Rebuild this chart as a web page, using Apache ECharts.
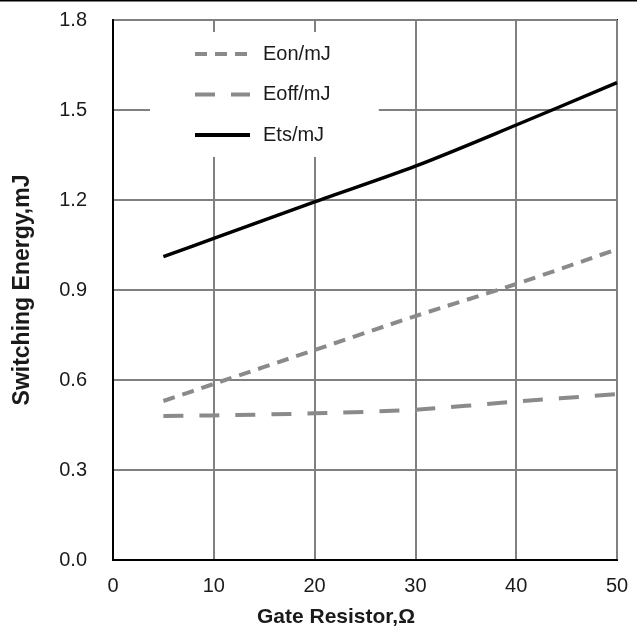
<!DOCTYPE html>
<html>
<head>
<meta charset="utf-8">
<script src="https://cdn.jsdelivr.net/npm/echarts@6/dist/echarts.min.js"></script>
<style>html,body{margin:0;padding:0;background:#fff;}#c{width:637px;height:627px;}</style>
</head>
<body>
<div id="c"></div>
<script>
const resistance = [5, 10, 20, 30, 40, 50];
const eon = [0.530, 0.587, 0.700, 0.813, 0.920, 1.036];
const eoff = [0.480, 0.482, 0.489, 0.501, 0.528, 0.553];
const ets = [1.011, 1.072, 1.194, 1.313, 1.450, 1.591];
const seriesNames = ['Eon/mJ', 'Eoff/mJ', 'Ets/mJ'];
const xTitle = 'Gate Resistor,Ω';
const yTitle = 'Switching Energy,mJ';

const pairs = arr => resistance.map((x, i) => [x, arr[i]]);
const chart = echarts.init(document.getElementById('c'));
const font = 'Liberation Sans, Arial, sans-serif';
const gray = '#8a8a8a';
chart.setOption({
  animation: false,
  backgroundColor: '#fff',
  grid: { left: 113, top: 20, width: 504, height: 540, show: true, borderColor: '#000', borderWidth: 2, backgroundColor: 'transparent', containLabel: false, outerBoundsMode: 'none' },
  graphic: [{ type: 'line', shape: { x1: 0, y1: 0.5, x2: 637, y2: 0.5 }, style: { stroke: '#000', lineWidth: 2 }, z: 100 }],
  legend: {
    orient: 'vertical', left: 150, top: 32,
    padding: [12, 48, 12, 43],
    backgroundColor: '#fff',
    itemWidth: 55, itemHeight: 14, itemGap: 20.5,
    itemStyle: { opacity: 0 },
    lineStyle: { width: 4 },
    textStyle: { fontFamily: font, fontSize: 20, lineHeight: 20, color: '#1a1a1a', padding: [0, 0, 0, 8] },
    data: seriesNames
  },
  xAxis: {
    type: 'value', min: 0, max: 50, interval: 10,
    name: xTitle, nameLocation: 'middle', nameGap: 47,
    nameTextStyle: { fontFamily: font, fontSize: 21, fontWeight: 'bold', color: '#1a1a1a', padding: [0, 58, 0, 0] },
    axisLine: { show: true, onZero: false, lineStyle: { color: '#000', width: 2 } },
    axisTick: { show: false },
    axisLabel: { fontFamily: font, fontSize: 20, color: '#1a1a1a', margin: 16 },
    splitLine: { show: true, lineStyle: { color: '#808080', width: 2 } }
  },
  yAxis: {
    type: 'value', min: 0, max: 1.8, interval: 0.3,
    name: yTitle, nameLocation: 'middle', nameGap: 79, nameRotate: 90,
    nameTextStyle: { fontFamily: font, fontSize: 23, fontWeight: 'bold', color: '#1a1a1a' },
    axisLine: { show: true, lineStyle: { color: '#000', width: 2 } },
    axisTick: { show: false },
    axisLabel: { fontFamily: font, fontSize: 20, color: '#1a1a1a', margin: 26, formatter: v => v.toFixed(1) },
    splitLine: { show: true, lineStyle: { color: '#808080', width: 2 } }
  },
  series: [
    { name: seriesNames[0], type: 'line', data: pairs(eon), smooth: 0.3, symbol: 'none', z: 3,
      lineStyle: { color: gray, width: 4, type: [12, 8] }, itemStyle: { color: gray } },
    { name: seriesNames[1], type: 'line', data: pairs(eoff), smooth: 0.3, symbol: 'none', z: 3,
      lineStyle: { color: gray, width: 4, type: [20, 16] }, itemStyle: { color: gray } },
    { name: seriesNames[2], type: 'line', data: pairs(ets), smooth: 0.3, symbol: 'none', z: 3,
      lineStyle: { color: '#000', width: 3.5, type: 'solid' }, itemStyle: { color: '#000' } }
  ]
});
</script>
</body>
</html>
